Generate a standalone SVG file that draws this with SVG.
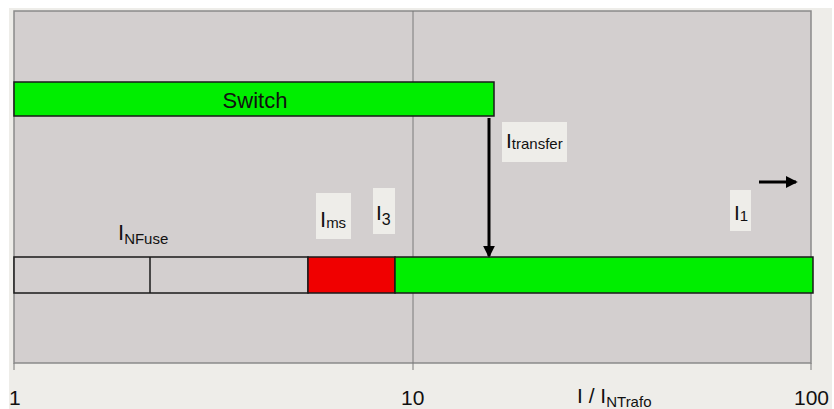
<svg xmlns="http://www.w3.org/2000/svg" width="834" height="409" viewBox="0 0 834 409">
<style>
text{font-family:"Liberation Sans",Arial,sans-serif;fill:#111}
.lbl{fill:#eeede9}
.bar{stroke:#1a1a1a;stroke-width:1.5}
.grid{stroke:#7a7a7a;stroke-width:1}
.big{font-size:21px}
.sub{font-size:15px}
</style>
<defs>
<marker id="ah" markerWidth="4" markerHeight="4" refX="3.4" refY="2" orient="auto" markerUnits="strokeWidth">
<path d="M0,0 L4,2 L0,4 Z" fill="#000"/>
</marker>
</defs>
<rect width="834" height="409" fill="#ffffff"/>
<rect x="9" y="8" width="823" height="401" fill="#eeede9"/>
<g id="plot">
<rect x="14" y="11" width="797" height="352" fill="#d3cfcf" stroke="#8a8a8a" stroke-width="1.5"/>
<line class="grid" x1="413" y1="11" x2="413" y2="370"/>
<line class="grid" x1="14" y1="363" x2="14" y2="370"/>
<line class="grid" x1="811" y1="363" x2="811" y2="370"/>
</g>
<g id="switch">
<rect class="bar" x="14" y="82" width="480" height="34" fill="#00ee00"/>
<text x="255" y="108" font-size="22" text-anchor="middle">Switch</text>
</g>
<g id="fuse-bar">
<rect class="bar" x="14" y="257" width="294" height="36" fill="#d3cfcf"/>
<line class="bar" x1="150" y1="257" x2="150" y2="293"/>
<rect class="bar" x="308" y="257" width="87" height="36" fill="#f00000"/>
<rect class="bar" x="395" y="257" width="418" height="36" fill="#00ee00"/>
</g>
<g id="connectors">
<line x1="489" y1="118" x2="489" y2="256" stroke="#000" stroke-width="3" marker-end="url(#ah)"/>
<line x1="759" y1="182" x2="796" y2="182" stroke="#000" stroke-width="3" marker-end="url(#ah)"/>
</g>
<g id="label-itransfer">
<rect class="lbl" x="502" y="122" width="65" height="40"/>
<text x="506" y="148" font-size="21">I<tspan class="sub" dy="1">transfer</tspan></text>
</g>
<g id="label-ims">
<rect class="lbl" x="316" y="193" width="35" height="46"/>
<text x="320" y="227" font-size="22">I<tspan class="sub" dy="1">ms</tspan></text>
</g>
<g id="label-i3">
<rect class="lbl" x="373" y="188" width="22" height="46"/>
<text x="376" y="220" font-size="21">I<tspan font-size="16" dy="5">3</tspan></text>
</g>
<g id="label-i1">
<rect class="lbl" x="730" y="190" width="21" height="41"/>
<text x="734" y="220" font-size="21">I<tspan font-size="15" dy="1">1</tspan></text>
</g>
<g id="label-infuse">
<text x="118" y="240" font-size="22">I<tspan class="sub" dy="4">NFuse</tspan></text>
</g>
<g id="axis-labels">
<text class="big" x="9" y="405">1</text>
<text class="big" x="401" y="405">10</text>
<text class="big" x="794" y="405">100</text>
<text x="577" y="403" font-size="21">I / I<tspan font-size="15" dy="4">NTrafo</tspan></text>
</g>
</svg>
